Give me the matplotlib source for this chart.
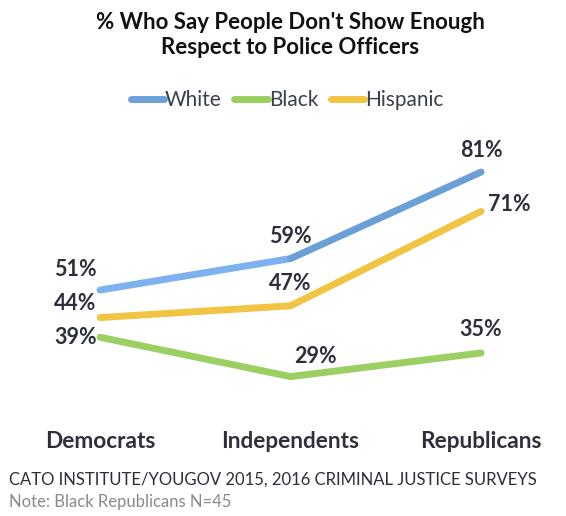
import matplotlib
matplotlib.use("Agg")
import matplotlib.pyplot as plt
from matplotlib.collections import LineCollection
from matplotlib.lines import Line2D
import numpy as np

plt.rcParams['font.family'] = ['Lato', 'DejaVu Sans']

categories = ["Democrats", "Independents", "Republicans"]
series_names = ["White", "Black", "Hispanic"]
white = [51, 59, 81]
black = [39, 29, 35]
hispanic = [44, 47, 71]
title = "% Who Say People Don't Show Enough\nRespect to Police Officers"
source = "CATO INSTITUTE/YOUGOV 2015, 2016 CRIMINAL JUSTICE SURVEYS"
note = "Note: Black Republicans N=45"

W, H = 566, 516
fig = plt.figure(figsize=(W/100, H/100), dpi=100)
fig.patch.set_facecolor('white')

def fx(px): return px / W
def fy(py): return 1 - py / H

ax = fig.add_axes([fx(5), fy(412), fx(566) - fx(5), (412 - 150) / H])
ax.set_xlim(-0.499, 2.446)
ax.set_ylim(20, 86.6)
ax.axis('off')

x = np.arange(len(categories))
lw = 5.0

segs = [[(x[i], white[i]), (x[i+1], white[i+1])] for i in range(len(x)-1)]
lc = LineCollection(segs, colors=['#7db1f0', '#6a9fd8'], linewidths=lw, capstyle='round', joinstyle='round', zorder=3)
ax.add_collection(lc)
ax.plot(x, black, color='#9ccf62', lw=lw, solid_capstyle='round', solid_joinstyle='round', zorder=3)
ax.plot(x, hispanic, color='#f2c444', lw=lw, solid_capstyle='round', solid_joinstyle='round', zorder=3)

ax.axhline(20, color='#ececec', lw=0.8, zorder=1)

lab_col = '#2b303b'
fs = 15.5
def lab(xi, yi, dx, dy, ha='center'):
    ax.annotate(f"{yi}%", (xi, yi), xytext=(dx, dy), textcoords='offset pixels',
                ha=ha, va='center', fontsize=fs, fontweight='bold', color=lab_col, zorder=4)

lab(x[0], white[0], -25, 21)
lab(x[1], white[1], 0, 22)
lab(x[2], white[2], 0, 22)
lab(x[0], black[0], -24, 0)
lab(x[1], black[1], 25, 20)
lab(x[2], black[2], 0, 23)
lab(x[0], hispanic[0], -25, 14)
lab(x[1], hispanic[1], 0, 22)
lab(x[2], hispanic[2], 28, 7)

for xi, c in zip(x, categories):
    ax.annotate(c, (xi, 20), xytext=(0, -30), textcoords='offset pixels',
                ha='center', va='center', fontsize=16.3, fontweight='bold', color=lab_col,
                annotation_clip=False)

fig.text(fx(290), fy(35), title, ha='center', va='center', fontsize=16,
         fontweight='bold', color='#111111', linespacing=1.25)

handles = [Line2D([0], [0], color=c, lw=5, solid_capstyle='round')
           for c in ['#6a9fd8', '#9ccf62', '#f2c444']]
leg = fig.legend(handles, series_names, loc='center', bbox_to_anchor=(fx(287), fy(100)),
                 ncol=3, frameon=False, fontsize=15, handlelength=1.6, handletextpad=0.05,
                 columnspacing=0.6, labelcolor='#3a404c')

fig.text(fx(9), fy(480), source, ha='left', va='center', fontsize=12, color='#2b2f38')
fig.text(fx(9), fy(502), note, ha='left', va='center', fontsize=12, color='#8a8a8a')

fig.savefig('out.png', dpi=100, facecolor='white')
